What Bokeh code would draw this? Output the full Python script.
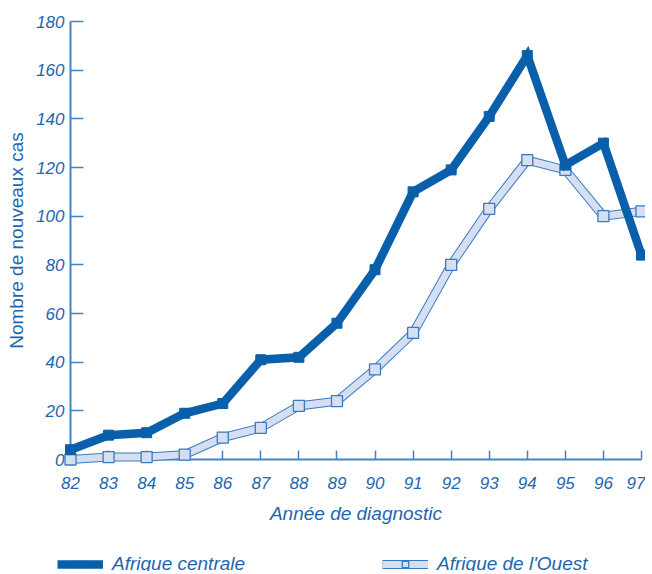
from bokeh.plotting import figure
from bokeh.models import FixedTicker, Legend, LegendItem, Range1d
from bokeh.layouts import column, row
from bokeh.embed import file_html
from bokeh.resources import INLINE

years = [82, 83, 84, 85, 86, 87, 88, 89, 90, 91, 92, 93, 94, 95, 96, 97]
afrique_centrale = [4, 10, 11, 19, 23, 41, 42, 56, 78, 110, 119, 141, 166, 121, 130, 84]
afrique_ouest = [0, 1, 1, 2, 9, 13, 22, 24, 37, 52, 80, 103, 123, 119, 100, 102]
y_ticks = [0, 20, 40, 60, 80, 100, 120, 140, 160, 180]

DARK = "#0a5fab"
AXIS = "#4384c4"
TEXT = "#1e66b0"
LIGHT = "#d6dff1"
OUTL = "#3a7bbf"
FONT = "Liberation Sans"

p = figure(output_backend="svg", toolbar_location=None,
           x_range=Range1d(82, 97), y_range=Range1d(0, 180),
           min_border_left=70, min_border_right=4, min_border_top=21, min_border_bottom=80)
p.frame_width = 571
p.frame_height = 438
p.outline_line_color = None
p.xgrid.visible = False
p.ygrid.visible = False

for ax in (p.xaxis[0], p.yaxis[0]):
    ax.axis_line_color = AXIS
    ax.axis_line_width = 2
    ax.major_tick_line_color = AXIS
    ax.major_tick_line_width = 1.5
    ax.minor_tick_line_color = None
    ax.major_tick_out = 0
    ax.major_label_text_font = FONT
    ax.major_label_text_font_style = "italic"
    ax.major_label_text_font_size = "17px"
    ax.major_label_text_color = TEXT
    ax.axis_label_text_color = TEXT
    ax.axis_label_text_font = FONT

p.xaxis.ticker = FixedTicker(ticks=years)
p.yaxis.ticker = FixedTicker(ticks=y_ticks)
p.xaxis.major_tick_in = 9
p.yaxis.major_tick_in = 13
p.xaxis.major_label_standoff = 17
p.yaxis.major_label_standoff = 6
p.xaxis.axis_label = "Année de diagnostic"
p.xaxis.axis_label_text_font_style = "italic"
p.xaxis.axis_label_text_font_size = "19px"
p.xaxis.axis_label_standoff = 11
p.yaxis.axis_label = "Nombre de nouveaux cas"
p.yaxis.axis_label_text_font_style = "normal"
p.yaxis.axis_label_text_font_size = "19px"
p.yaxis.axis_label_standoff = 6

OUEST_OUT = dict(line_color=OUTL, line_width=9, line_join="miter")
OUEST_IN = dict(line_color=LIGHT, line_width=7, line_join="miter")
OUEST_MK = dict(marker="square", size=11, fill_color=LIGHT, line_color=OUTL, line_width=1.3)
CENT_LN = dict(line_color=DARK, line_width=8.5, line_join="miter")
CENT_MK = dict(marker="square", size=10, fill_color=DARK, line_color=DARK)

# Afrique de l'Ouest: light band with outline
p.line(years, afrique_ouest, level="overlay", **OUEST_OUT)
p.line(years, afrique_ouest, level="overlay", **OUEST_IN)
p.scatter(years, afrique_ouest, level="overlay", **OUEST_MK)

# Afrique centrale: thick dark line
p.line(years, afrique_centrale, level="overlay", **CENT_LN)
p.scatter(years, afrique_centrale, level="overlay", **CENT_MK)

# Legend strip below the chart (same series, drawn out of view; only the legend shows)
pl = figure(width=645, height=32, output_backend="svg", toolbar_location=None,
            x_axis_type=None, y_axis_type=None, x_range=Range1d(0, 1), y_range=Range1d(-1000, -999),
            min_border=0, min_border_left=0, min_border_right=0, min_border_top=0, min_border_bottom=0)
pl.outline_line_color = None
pl.xgrid.visible = False
pl.ygrid.visible = False
lc1 = pl.line(years, afrique_centrale, **CENT_LN)
lc2 = pl.scatter(years, afrique_centrale, **CENT_MK)
lo1 = pl.line(years, afrique_ouest, **OUEST_OUT)
lo2 = pl.line(years, afrique_ouest, **OUEST_IN)
lo3 = pl.scatter(years, afrique_ouest, **OUEST_MK)

legend = Legend(items=[LegendItem(label="Afrique centrale", renderers=[lc1, lc2]),
                       LegendItem(label="Afrique de l'Ouest", renderers=[lo1, lo2, lo3])],
                location=(57, -4), orientation="horizontal", spacing=137,
                border_line_color=None, background_fill_alpha=0, padding=0, margin=0,
                glyph_width=46, glyph_height=16, label_standoff=9,
                label_text_font=FONT, label_text_font_style="italic",
                label_text_font_size="19px", label_text_color=TEXT)
pl.add_layout(legend, "center")

layout = column(p, row(pl, spacing=0), spacing=0)
open("out.html", "w").write(file_html(layout, INLINE))
